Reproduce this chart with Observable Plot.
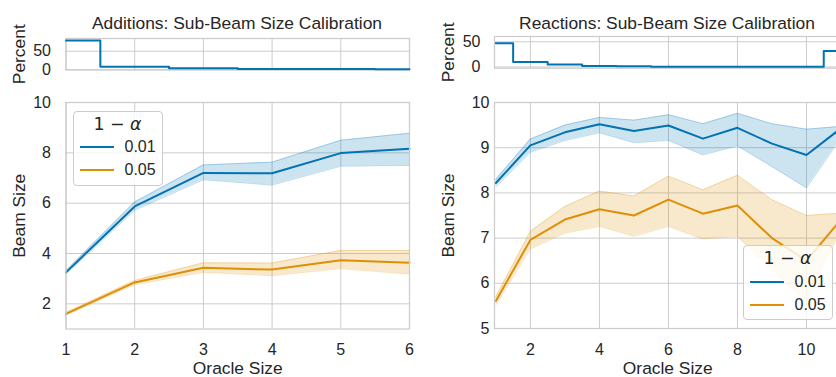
<!DOCTYPE html>
<html><head><meta charset="utf-8">
<script src="https://cdn.jsdelivr.net/npm/d3@7"></script>
<script src="https://cdn.jsdelivr.net/npm/@observablehq/plot@0.6"></script>
<style>
html,body{margin:0;padding:0;background:#fff;overflow:hidden;}
#chart{position:relative;width:836px;height:377px;overflow:hidden;font-family:"Liberation Sans",Arial,sans-serif;color:#262626;}
#chart svg{position:absolute;top:0;overflow:visible;}
#chart [aria-label$="axis label"]{font-size:17.4px;}
.title{position:absolute;font-size:17.4px;line-height:20px;white-space:nowrap;transform:translateX(-50%);}
.legend{position:absolute;width:88px;height:73px;border:1px solid #cccccc;border-radius:4px;background:rgba(255,255,255,0.8);box-sizing:content-box;}
.legend .lt{position:absolute;left:0;right:0;top:2px;text-align:center;font-family:"DejaVu Sans",sans-serif;font-size:17.4px;line-height:20px;}
.legend .sw{position:absolute;left:6px;width:34px;height:0;border-top:2px solid;}
.legend .lb{position:absolute;left:51px;font-size:16px;line-height:16px;}
</style>
</head><body>
<div id="chart"></div>
<script>
// ---- data ----
const alphaLevels = ["0.01", "0.05"];
const colors = ["#0173b2", "#de8f05"];

// Additions panel
const addOracle = [1, 2, 3, 4, 5, 6];
const addPercent = [79, 7.5, 3.8, 1.6, 1.5, 0.8];
const add01Mean = [3.25, 5.87, 7.2, 7.19, 7.99, 8.16];
const add01Lo   = [3.18, 5.72, 6.93, 6.72, 7.47, 7.5];
const add01Hi   = [3.32, 6.05, 7.52, 7.63, 8.5, 8.78];
const add05Mean = [1.6, 2.85, 3.43, 3.36, 3.73, 3.63];
const add05Lo   = [1.55, 2.76, 3.25, 3.12, 3.4, 3.18];
const add05Hi   = [1.66, 2.93, 3.63, 3.62, 4.12, 4.12];

// Reactions panel
const rxnOracle = [1, 2, 3, 4, 5, 6, 7, 8, 9, 10, 11];
const rxnPercent = [47, 10, 4.7, 2, 1.3, 0.5, 0.4, 0.4, 0.4, 0.4, 31.5];
const rxn01Mean = [8.22, 9.05, 9.34, 9.52, 9.37, 9.49, 9.2, 9.44, 9.09, 8.84, 9.43];
const rxn01Lo   = [8.13, 8.9, 9.16, 9.33, 9.11, 9.16, 8.84, 9.04, 8.58, 8.11, 9.22];
const rxn01Hi   = [8.3, 9.19, 9.5, 9.67, 9.61, 9.73, 9.53, 9.76, 9.53, 9.41, 9.47];
const rxn05Mean = [5.61, 6.96, 7.41, 7.64, 7.5, 7.85, 7.54, 7.72, 7.0, 6.5, 7.41];
const rxn05Lo   = [5.52, 6.76, 7.11, 7.26, 7.04, 7.26, 6.98, 7.04, 6.3, 5.6, 7.2];
const rxn05Hi   = [5.7, 7.15, 7.7, 8.04, 7.93, 8.37, 8.07, 8.39, 7.85, 7.5, 7.55];

// ticks
const addXTicks = [1, 2, 3, 4, 5, 6];
const addYTicks = [2, 4, 6, 8, 10];
const rxnXTicks = [2, 4, 6, 8, 10];
const rxnYTicks = [5, 6, 7, 8, 9, 10];
const pctTicks = [0, 50];

// ---- build tables ----
function rows(xs, series) {
  const out = [];
  series.forEach(([alpha, m, lo, hi]) => xs.forEach((x, i) => out.push({oracle: x, alpha, mean: m[i], lo: lo[i], hi: hi[i]})));
  return out;
}
const addRows = rows(addOracle, [["0.01", add01Mean, add01Lo, add01Hi], ["0.05", add05Mean, add05Lo, add05Hi]]);
const rxnRows = rows(rxnOracle, [["0.01", rxn01Mean, rxn01Lo, rxn01Hi], ["0.05", rxn05Mean, rxn05Lo, rxn05Hi]]);
const addPct = addOracle.map((x, i) => ({oracle: x, pct: addPercent[i]}));
const rxnPct = rxnOracle.map((x, i) => ({oracle: x, pct: rxnPercent[i]}));

const GRID = "#cccccc";
const style = {fontSize: "16px", fontFamily: '"Liberation Sans", Arial, sans-serif', color: "#262626", background: "transparent", overflow: "visible"};
const gridOpts = {stroke: GRID, strokeOpacity: 1, strokeWidth: 1};
const color = {domain: alphaLevels, range: colors};

function histPlot({width, ml, mr, mt, mb, xDomain, xTicks, yDomain, data, tickPadding}) {
  return Plot.plot({
    width, height: 377, marginLeft: ml, marginRight: mr, marginTop: mt, marginBottom: mb,
    style,
    x: {domain: xDomain, axis: null},
    y: {domain: yDomain},
    marks: [
      Plot.gridX(xTicks, gridOpts),
      Plot.gridY(pctTicks, gridOpts),
      Plot.frame({stroke: GRID, strokeWidth: 1.25}),
      Plot.lineY(data, {x: "oracle", y: "pct", curve: "step", stroke: colors[0], strokeWidth: 2}),
      Plot.axisY(pctTicks, {tickSize: 0, tickPadding, label: "Percent", labelAnchor: "center", labelArrow: "none", labelOffset: 53})
    ]
  });
}

function mainPlot({width, ml, mr, mt, mb, xDomain, xTicks, yDomain, yTicks, data, yPad}) {
  return Plot.plot({
    width, height: 377, marginLeft: ml, marginRight: mr, marginTop: mt, marginBottom: mb,
    style, color,
    x: {domain: xDomain},
    y: {domain: yDomain},
    marks: [
      Plot.gridX(xTicks, gridOpts),
      Plot.gridY(yTicks, gridOpts),
      Plot.areaY(data, {x: "oracle", y1: "lo", y2: "hi", z: "alpha", fill: "alpha", fillOpacity: 0.2}),
      Plot.lineY(data, {x: "oracle", y: "lo", z: "alpha", stroke: "alpha", strokeOpacity: 0.25, strokeWidth: 1}),
      Plot.lineY(data, {x: "oracle", y: "hi", z: "alpha", stroke: "alpha", strokeOpacity: 0.25, strokeWidth: 1}),
      Plot.lineY(data, {x: "oracle", y: "mean", z: "alpha", stroke: "alpha", strokeWidth: 2}),
      Plot.frame({stroke: GRID, strokeWidth: 1.25}),
      Plot.axisX(xTicks, {tickSize: 0, tickPadding: 15, label: "Oracle Size", labelAnchor: "center", labelArrow: "none", labelOffset: 45}),
      Plot.axisY(yTicks, {tickSize: 0, tickPadding: yPad, label: "Beam Size", labelAnchor: "center", labelArrow: "none", labelOffset: 53})
    ]
  });
}

const chart = document.getElementById("chart");
function place(svg, left) { svg.style.left = left + "px"; chart.appendChild(svg); }

place(histPlot({width: 420, ml: 65.5, mr: 11, mt: 38, mb: 307.5, xDomain: [1, 6], xTicks: addXTicks, yDomain: [-1, 84.5], data: addPct, tickPadding: 15}), 0);
place(mainPlot({width: 420, ml: 65.5, mr: 11, mt: 102, mb: 48.5, xDomain: [1, 6], xTicks: addXTicks, yDomain: [1, 10], yTicks: addYTicks, data: addRows, yPad: 15}), 0);
place(histPlot({width: 421, ml: 74, mr: 0.5, mt: 36, mb: 309.3, xDomain: [0.96, 11], xTicks: rxnXTicks, yDomain: [-2.5, 60.4], data: rxnPct, tickPadding: 14}), 420);
place(mainPlot({width: 421, ml: 74, mr: 0.5, mt: 102, mb: 49, xDomain: [0.96, 11], xTicks: rxnXTicks, yDomain: [5, 10], yTicks: rxnYTicks, data: rxnRows, yPad: 5}), 420);

// titles
function addTitle(text, cx) {
  const d = document.createElement("div");
  d.className = "title"; d.textContent = text;
  d.style.left = cx + "px"; d.style.top = "13px";
  chart.appendChild(d);
}
addTitle("Additions: Sub-Beam Size Calibration", 237);
addTitle("Reactions: Sub-Beam Size Calibration", 667);

// legends
function addLegend(left, top) {
  const L = document.createElement("div");
  L.className = "legend"; L.style.left = left + "px"; L.style.top = top + "px";
  const t = document.createElement("div"); t.className = "lt";
  t.innerHTML = '1 − <i>α</i>';
  L.appendChild(t);
  alphaLevels.forEach((a, i) => {
    const cy = 35.5 + i * 23.3;
    const s = document.createElement("div"); s.className = "sw";
    s.style.borderTopColor = colors[i]; s.style.top = (cy - 1) + "px";
    const l = document.createElement("div"); l.className = "lb";
    l.textContent = a; l.style.top = (cy - 8) + "px";
    L.appendChild(s); L.appendChild(l);
  });
  chart.appendChild(L);
}
addLegend(72.5, 110.5);
addLegend(742.5, 245);
</script>
</body></html>
